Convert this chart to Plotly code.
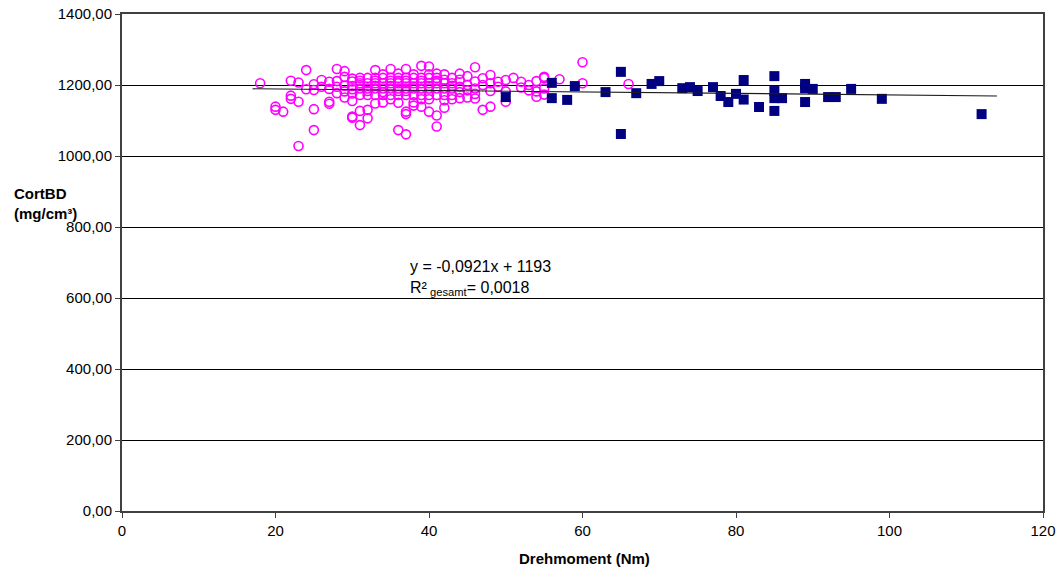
import plotly.graph_objects as go

# Pink (open circles) series: x values (Nm) and CortBD values
pink_x = (
    [18] + [20, 20] + [21] + [22, 22, 22] + [23, 23, 23] + [24, 24] + [25, 25, 25, 25]
    + [26, 26] + [27, 27, 27, 27] + [28, 28, 28, 28] + [29, 29, 29, 29, 29]
    + [30] * 8 + [31] * 8 + [32] * 7 + [33] * 8 + [34] * 7 + [35] * 8 + [36] * 9
    + [37] * 10 + [38] * 8 + [39] * 8 + [40] * 9 + [41] * 8 + [42] * 7 + [43] * 6
    + [44] * 5 + [45] * 4 + [46] * 5 + [47] * 3 + [48] * 4 + [49] * 2 + [50] * 3
    + [51] + [52, 52] + [53, 53] + [54, 54, 54] + [55, 55, 55, 55] + [57] + [60, 60] + [66]
)
pink_y = (
    [1205] + [1139, 1130] + [1125] + [1212, 1170, 1161] + [1207, 1153, 1028] + [1242, 1188]
    + [1202, 1186, 1132, 1073] + [1214, 1195] + [1209, 1189, 1153, 1147]
    + [1245, 1211, 1195, 1177] + [1239, 1223, 1198, 1165, 1182]
    + [1218, 1197, 1176, 1155, 1108, 1111, 1210, 1188]
    + [1220, 1205, 1190, 1172, 1127, 1087, 1200, 1212]
    + [1220, 1205, 1190, 1172, 1130, 1106, 1183]
    + [1242, 1220, 1205, 1190, 1172, 1148, 1212, 1198]
    + [1220, 1205, 1190, 1172, 1151, 1230, 1180]
    + [1245, 1220, 1205, 1190, 1172, 1212, 1197, 1160]
    + [1232, 1220, 1205, 1190, 1172, 1073, 1212, 1183, 1150]
    + [1245, 1220, 1205, 1190, 1172, 1125, 1118, 1061, 1212, 1183]
    + [1220, 1205, 1190, 1172, 1151, 1230, 1195, 1142]
    + [1254, 1220, 1205, 1190, 1172, 1139, 1212, 1160]
    + [1252, 1220, 1205, 1190, 1172, 1125, 1230, 1197, 1160]
    + [1232, 1220, 1205, 1190, 1172, 1114, 1083, 1212]
    + [1230, 1205, 1190, 1172, 1157, 1136, 1215]
    + [1220, 1205, 1190, 1172, 1160, 1198]
    + [1232, 1215, 1195, 1163, 1180]
    + [1225, 1200, 1165, 1185]
    + [1250, 1210, 1190, 1162, 1175]
    + [1219, 1200, 1130]
    + [1228, 1183, 1139, 1205]
    + [1209, 1195]
    + [1214, 1182, 1153]
    + [1220] + [1209, 1193] + [1200, 1185] + [1211, 1182, 1167]
    + [1220, 1223, 1190, 1173] + [1216] + [1264, 1205] + [1203]
)

# Navy (filled squares) series
navy_x = [50, 56, 56, 58, 59, 63, 65, 65, 67, 69, 70, 73, 74, 75, 77, 78, 79, 80, 81, 81,
          83, 85, 85, 85, 85, 86, 89, 89, 89, 90, 92, 93, 95, 99, 112]
navy_y = [1166, 1206, 1163, 1158, 1197, 1180, 1237, 1062, 1177, 1203, 1211, 1191, 1194, 1183,
          1194, 1169, 1152, 1175, 1214, 1159, 1138, 1225, 1183, 1163, 1127, 1163, 1203, 1191,
          1152, 1189, 1166, 1166, 1189, 1161, 1118]

# Trend line (as drawn)
trend_x = [17, 114]
trend_intercept = 1193
trend_slope = -0.21
trend_y = [trend_intercept + trend_slope * v for v in trend_x]

x_ticks = [0, 20, 40, 60, 80, 100, 120]
y_ticks = [0, 200, 400, 600, 800, 1000, 1200, 1400]

FONT = "Liberation Sans, Arial, sans-serif"

# plot area in pixels
L, R, T, B = 122, 15, 14, 58
W, H = 1058, 569
w_plot = W - L - R
h_plot = H - T - B

def px_to_paper(px, py):
    return (px - L) / w_plot, (H - B - py) / h_plot

fig = go.Figure()
fig.add_trace(go.Scatter(
    x=pink_x, y=pink_y, mode="markers",
    marker=dict(symbol="circle-open", size=9, color="#FF00FF", line=dict(width=1.6, color="#FF00FF")),
    showlegend=False,
))
fig.add_trace(go.Scatter(
    x=navy_x, y=navy_y, mode="markers",
    marker=dict(symbol="square", size=10, color="#000080", line=dict(width=0)),
    showlegend=False,
))
fig.add_trace(go.Scatter(
    x=trend_x, y=trend_y, mode="lines",
    line=dict(color="#1a1a1a", width=1.2),
    showlegend=False,
))

ytx, yty = px_to_paper(12, 203)
xtx, xty = px_to_paper(584, 558)
ax, ay = px_to_paper(408, 256)

fig.update_layout(
    width=W, height=H,
    margin=dict(l=L, r=R, t=T, b=B, autoexpand=False),
    paper_bgcolor="white", plot_bgcolor="white",
    font=dict(family=FONT, size=15, color="black"),
    separators=",.",
    xaxis=dict(
        range=[0, 120], tickvals=x_ticks, showgrid=False, zeroline=False,
        showline=True, linecolor="#404040", linewidth=2, mirror=True,
        ticks="outside", ticklen=5, tickcolor="#404040",
        tickfont=dict(size=15), automargin=False,
    ),
    yaxis=dict(
        range=[0, 1400], tickvals=y_ticks, tickformat=".2f",
        showgrid=True, gridcolor="#000000", gridwidth=1, zeroline=False,
        showline=True, linecolor="#404040", linewidth=2, mirror=True,
        ticks="outside", ticklen=5, tickcolor="#404040",
        tickfont=dict(size=15), automargin=False,
    ),
    annotations=[
        dict(text="<b>CortBD<br>(mg/cm³)</b>", x=ytx, y=yty, xref="paper", yref="paper",
             showarrow=False, align="left", xanchor="left", yanchor="middle",
             font=dict(size=15)),
        dict(text="<b>Drehmoment (Nm)</b>", x=xtx, y=xty, xref="paper", yref="paper",
             showarrow=False, xanchor="center", yanchor="middle",
             font=dict(size=15)),
        dict(text="y = -0,0921x + 1193<br>R²<sub> gesamt</sub>= 0,0018", x=ax, y=ay,
             xref="paper", yref="paper", showarrow=False, align="left",
             xanchor="left", yanchor="top", font=dict(size=16)),
    ],
)

fig.write_html("out.html")
